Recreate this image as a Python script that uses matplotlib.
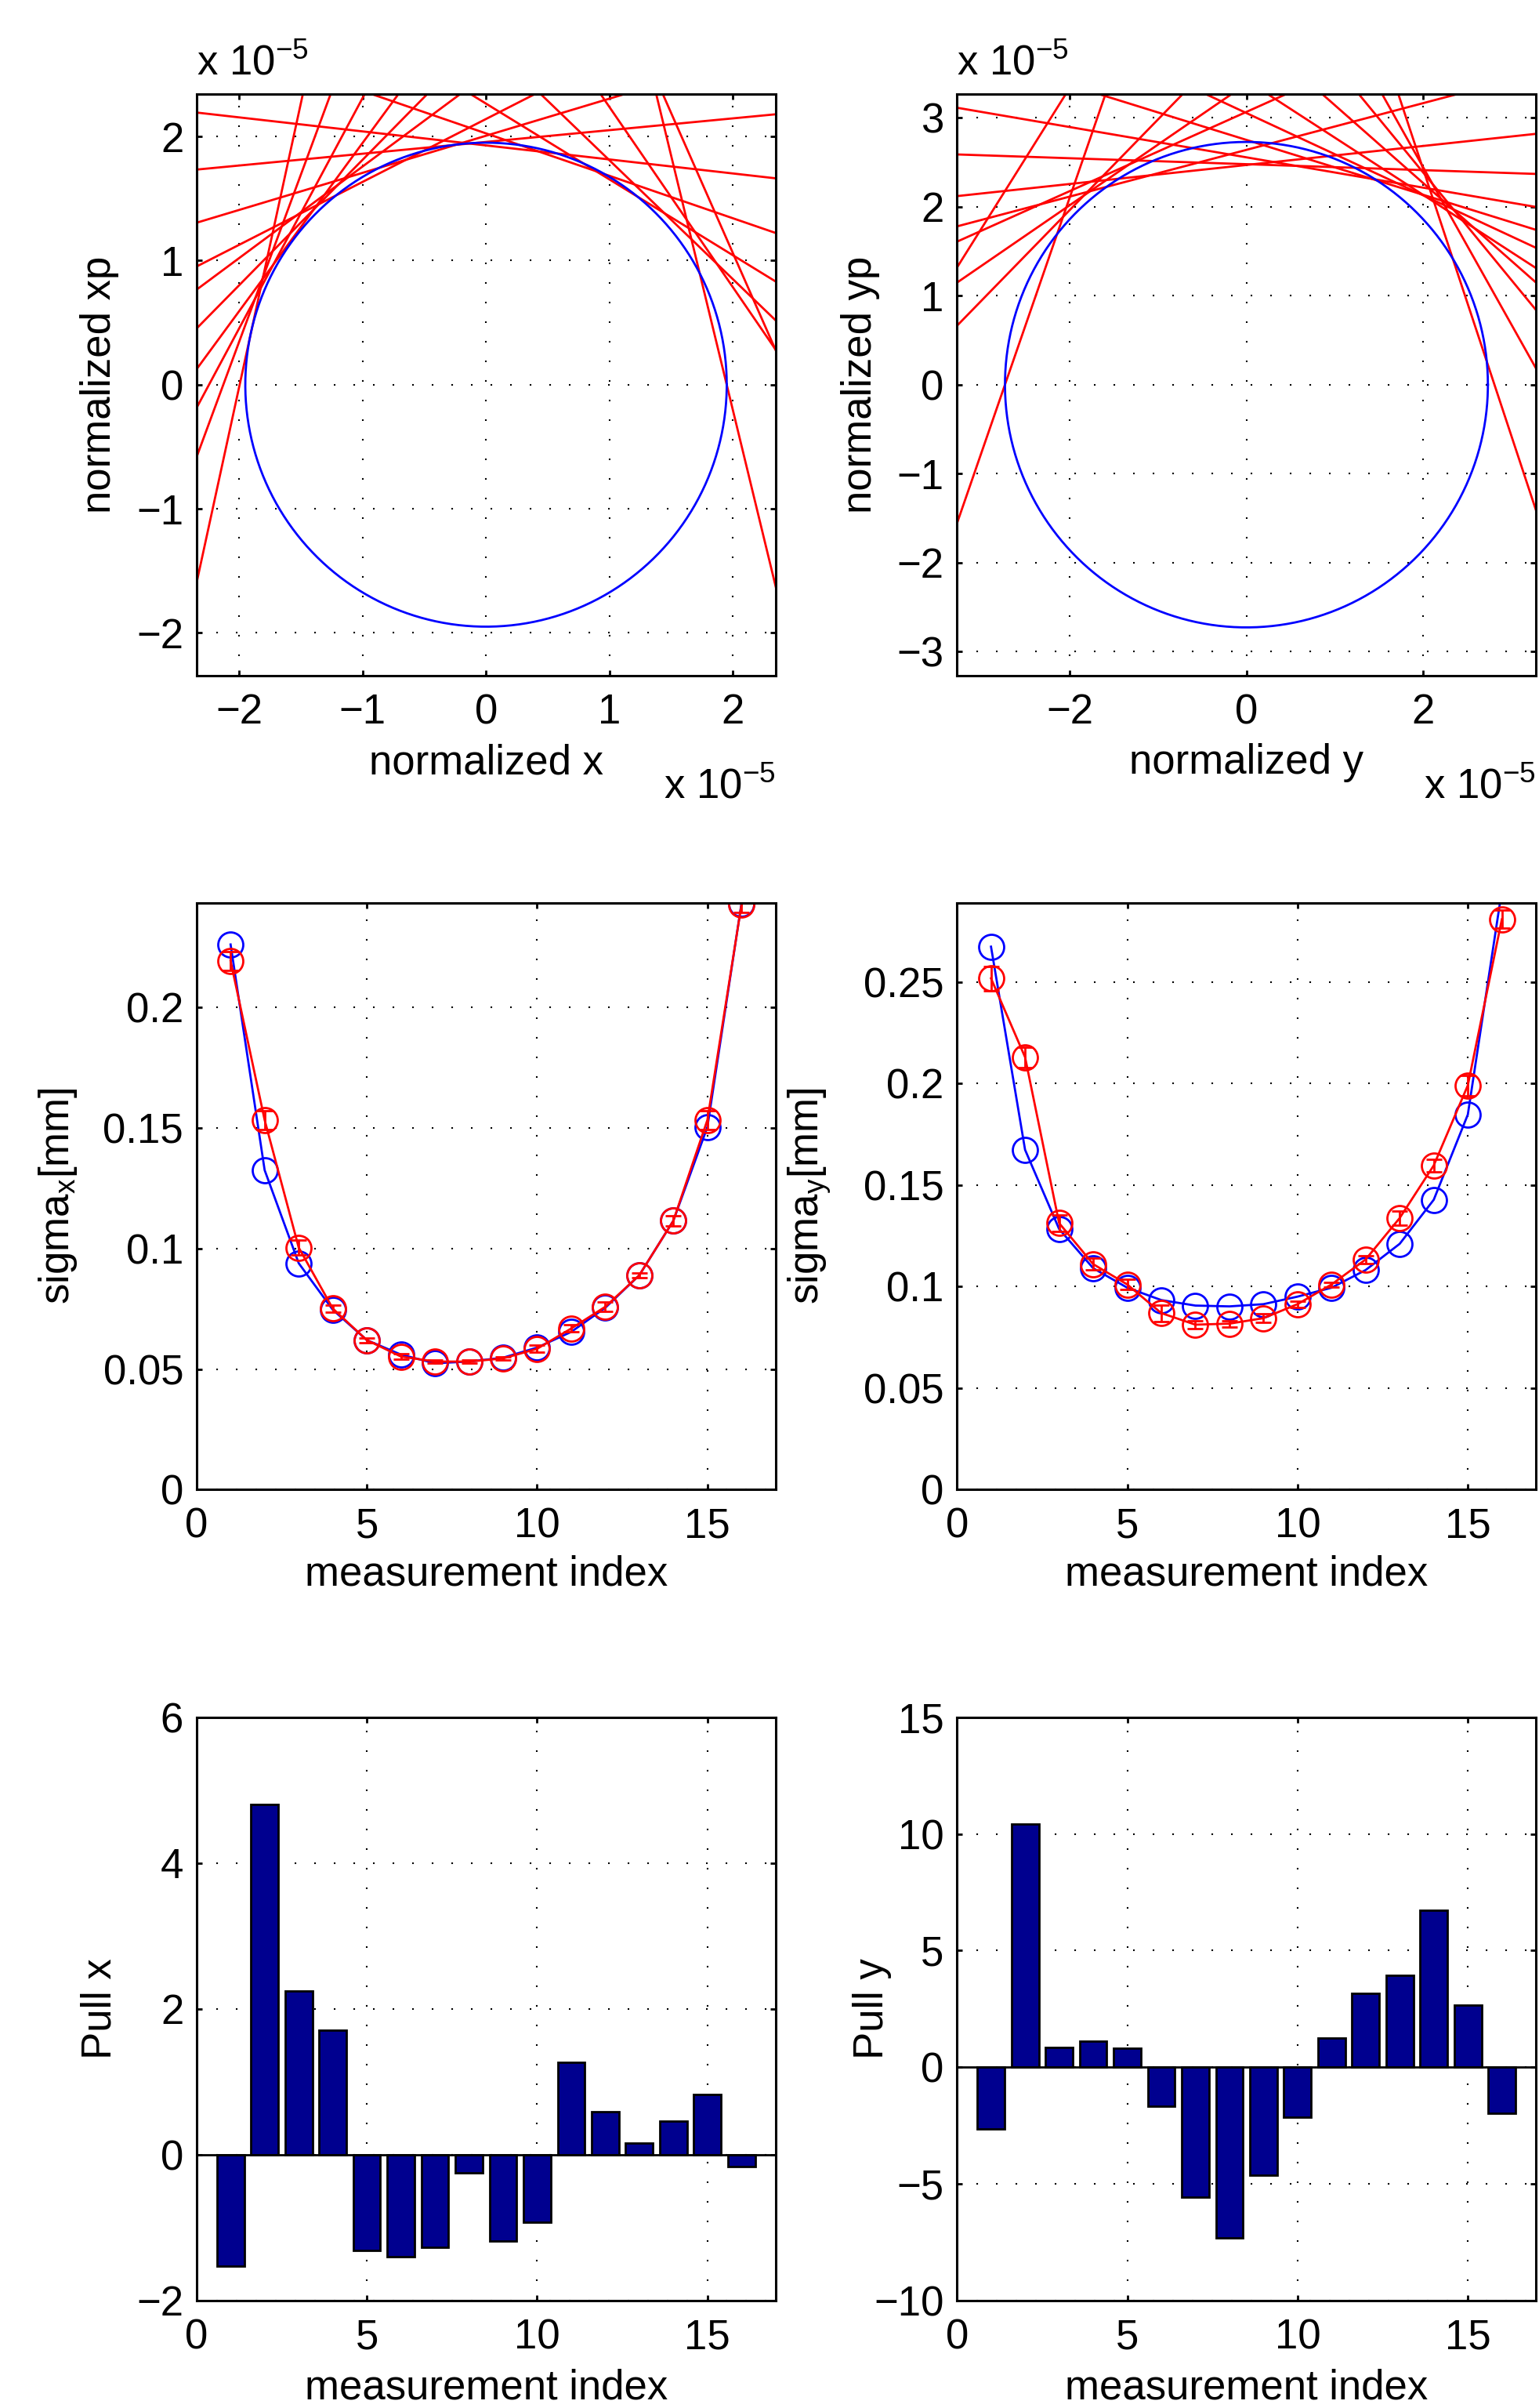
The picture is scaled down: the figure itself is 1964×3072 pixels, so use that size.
import matplotlib
matplotlib.use("Agg")
import matplotlib.pyplot as plt
import matplotlib.ticker as ticker
import numpy as np

plt.rcParams['font.family'] = ['Liberation Sans', 'DejaVu Sans']
plt.rcParams['font.size'] = 19
plt.rcParams['mathtext.fontset'] = 'custom'
plt.rcParams['mathtext.rm'] = 'Liberation Sans'
plt.rcParams['mathtext.it'] = 'Liberation Sans:italic'
plt.rcParams['axes.linewidth'] = 1.1
plt.rcParams['xtick.direction'] = 'in'
plt.rcParams['ytick.direction'] = 'in'
plt.rcParams['xtick.top'] = True
plt.rcParams['ytick.right'] = True
plt.rcParams['xtick.major.size'] = 2.6
plt.rcParams['ytick.major.size'] = 2.6
plt.rcParams['xtick.major.width'] = 1.0
plt.rcParams['ytick.major.width'] = 1.0
plt.rcParams['xtick.major.pad'] = 8
plt.rcParams['ytick.major.pad'] = 6

# ---- data ----
index = np.arange(1, 17)

# measured phase space lines, units of 1e-5: xp = slope * x + intercept
x_slopes = [-0.113, 0.095, 0.299, 0.507, 0.738, 1.011, 1.356, 1.857,
            2.694, 4.575, -0.342, -0.611, -0.958, -1.452, -4.10, -2.257]
x_intercepts = [1.928, 1.956, 2.006, 2.141, 2.496, 2.823, 3.304, 4.167,
                5.733, 9.13, 2.025, 2.265, 2.766, 3.689, 7.994, 5.574]
x_ellipse = (1.95, 1.95)  # semi axes of fitted ellipse
x_lim = 2.345

y_slopes = [-0.1705, -0.0335, 0.107, 0.263, 0.446, 1.586, 0.683, 1.021,
            2.875, -0.309, -0.463, -0.645, -0.877, -1.212, -1.773, -3.007]
y_intercepts = [2.557, 2.480, 2.471, 2.641, 3.068, 6.508, 3.383, 4.004,
                7.849, 2.753, 3.055, 3.423, 4.020, 4.808, 5.988, 8.432]
y_ellipse = (2.73, 2.73)
y_lim = 3.273

# beam sizes [mm]
sigx_fit = [0.2261, 0.1325, 0.0939, 0.0746, 0.0620, 0.0560, 0.0524, 0.0531,
            0.0547, 0.0589, 0.0654, 0.0754, 0.0889, 0.1115, 0.1504, 0.2430]
sigx_meas = [0.2193, 0.1533, 0.1004, 0.0751, 0.0620, 0.0552, 0.0531, 0.0531,
             0.0544, 0.0584, 0.0668, 0.0758, 0.0889, 0.1115, 0.1533, 0.2425]
sigx_err = [0.004, 0.004, 0.003, 0.0015, 0.001, 0.001, 0.0007, 0.0007,
            0.0008, 0.0015, 0.0015, 0.002, 0.001, 0.002, 0.004, 0.003]

sigy_fit = [0.2673, 0.1673, 0.1283, 0.1090, 0.0994, 0.0933, 0.0906, 0.0902,
            0.0913, 0.0950, 0.0994, 0.1081, 0.1210, 0.1427, 0.1846, 0.295]
sigy_meas = [0.2517, 0.2129, 0.1312, 0.1110, 0.1010, 0.0869, 0.0812, 0.0817,
             0.0844, 0.0913, 0.1010, 0.1133, 0.1337, 0.1596, 0.1990, 0.2808]
sigy_err = [0.006, 0.005, 0.004, 0.003, 0.0025, 0.004, 0.002, 0.0015,
            0.002, 0.0015, 0.0012, 0.002, 0.0035, 0.003, 0.005, 0.0045]

pull_x = [-1.53, 4.80, 2.24, 1.71, -1.31, -1.40, -1.27, -0.25,
          -1.18, -0.92, 1.27, 0.59, 0.16, 0.46, 0.83, -0.16]
pull_y = [-2.64, 10.43, 0.86, 1.10, 0.82, -1.68, -5.56, -7.30,
          -4.62, -2.14, 1.24, 3.17, 3.94, 6.73, 2.67, -1.98]

BAR_COLOR = (0, 0, 0.5625)


def fmt(v, pos):
    return ('%g' % v).replace('-', '\u2212')


def style_axes(ax):
    ax.grid(True, linestyle=(0, (1, 11)), color='k', linewidth=0.75)
    ax.set_axisbelow(True)
    ax.xaxis.set_major_formatter(ticker.FuncFormatter(fmt))
    ax.yaxis.set_major_formatter(ticker.FuncFormatter(fmt))


fig = plt.figure(figsize=(9.82, 15.36), dpi=200)

col_x = [0.1277, 0.6218]
w = 0.3762
rows = [(0.7194, 0.2417), (0.3814, 0.2436), (0.0446, 0.2423)]


def phase_plot(ax, slopes, intercepts, ell, lim, ticks, xl, yl):
    xs = np.array([-2 * lim, 2 * lim])
    for m, b in zip(slopes, intercepts):
        ax.plot(xs, m * xs + b, color='r', lw=1.0)
    t = np.linspace(0, 2 * np.pi, 400)
    ax.plot(ell[0] * np.cos(t), ell[1] * np.sin(t), color='b', lw=1.0)
    ax.set_xlim(-lim, lim)
    ax.set_ylim(-lim, lim)
    ax.set_xticks(ticks[0])
    ax.set_yticks(ticks[1])
    style_axes(ax)
    ax.set_xlabel(xl)
    ax.set_ylabel(yl)
    ax.xaxis.set_label_coords(0.5, -0.15)
    ax.xaxis.label.set_va('center')
    ax.yaxis.set_label_coords(-0.167, 0.5)
    ax.yaxis.label.set_va('center')
    ax.text(0, 1.033, r'x 10$^{-5}$', transform=ax.transAxes, ha='left', va='baseline')
    ax.text(1.0, -0.21, r'x 10$^{-5}$', transform=ax.transAxes, ha='right', va='baseline')


# top row: phase space
ax1 = fig.add_axes([col_x[0], rows[0][0], w, rows[0][1]])
phase_plot(ax1, x_slopes, x_intercepts, x_ellipse, x_lim,
           ([-2, -1, 0, 1, 2], [-2, -1, 0, 1, 2]), 'normalized x', 'normalized xp')

ax2 = fig.add_axes([col_x[1], rows[0][0], w, rows[0][1]])
phase_plot(ax2, y_slopes, y_intercepts, y_ellipse, y_lim,
           ([-2, 0, 2], [-3, -2, -1, 0, 1, 2, 3]), 'normalized y', 'normalized yp')


def sigma_plot(ax, fit, meas, err, top, yticks, yl, ylab_x):
    ax.plot(index, fit, 'bo-', mfc='none', ms=11.5, lw=1.0, mew=1.0)
    ax.errorbar(index, meas, yerr=err, fmt='ro-', mfc='none', ms=11.5, lw=1.0,
                mew=1.0, capsize=3.6, elinewidth=1.0)
    ax.set_xlim(0, 17)
    ax.set_ylim(0, top)
    ax.set_xticks([0, 5, 10, 15])
    ax.set_yticks(yticks)
    style_axes(ax)
    ax.set_xlabel('measurement index')
    ax.set_ylabel(yl)
    ax.xaxis.set_label_coords(0.5, -0.145)
    ax.xaxis.label.set_va('center')
    ax.yaxis.set_label_coords(ylab_x, 0.5)
    ax.yaxis.label.set_va('center')


# middle row: beam sizes
ax3 = fig.add_axes([col_x[0], rows[1][0], w, rows[1][1]])
sigma_plot(ax3, sigx_fit, sigx_meas, sigx_err, 0.2433,
           [0, 0.05, 0.1, 0.15, 0.2], r'sigma$_{\mathregular{x}}$[mm]', -0.239)

ax4 = fig.add_axes([col_x[1], rows[1][0], w, rows[1][1]])
sigma_plot(ax4, sigy_fit, sigy_meas, sigy_err, 0.2888,
           [0, 0.05, 0.1, 0.15, 0.2, 0.25], r'sigma$_{\mathregular{y}}$[mm]', -0.255)


def pull_plot(ax, pulls, ylim, yticks, yl, ylab_x):
    ax.bar(index, pulls, width=0.8, color=BAR_COLOR, edgecolor='k', linewidth=1.0)
    ax.axhline(0, color='k', lw=1.0)
    ax.set_xlim(0, 17)
    ax.set_ylim(*ylim)
    ax.set_xticks([0, 5, 10, 15])
    ax.set_yticks(yticks)
    style_axes(ax)
    ax.set_xlabel('measurement index')
    ax.set_ylabel(yl)
    ax.xaxis.set_label_coords(0.5, -0.15)
    ax.xaxis.label.set_va('center')
    ax.yaxis.set_label_coords(ylab_x, 0.5)
    ax.yaxis.label.set_va('center')


# bottom row: pulls
ax5 = fig.add_axes([col_x[0], rows[2][0], w, rows[2][1]])
pull_plot(ax5, pull_x, (-2, 6), [-2, 0, 2, 4, 6], 'Pull x', -0.167)

ax6 = fig.add_axes([col_x[1], rows[2][0], w, rows[2][1]])
pull_plot(ax6, pull_y, (-10, 15), [-10, -5, 0, 5, 10, 15], 'Pull y', -0.146)

fig.savefig('out.png', dpi=200)
